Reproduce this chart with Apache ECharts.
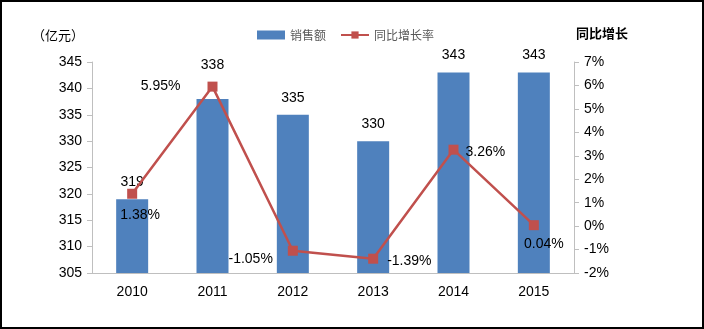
<!DOCTYPE html>
<html><head><meta charset="utf-8">
<script src="https://cdn.jsdelivr.net/npm/echarts@6/dist/echarts.min.js"></script>
<style>
html,body{margin:0;padding:0;background:#fff;}
#c{width:704px;height:329px;box-sizing:border-box;border:2px solid #000;}
</style></head>
<body><div id="c"></div>
<script>
const categories = ['2010','2011','2012','2013','2014','2015'];
const sales = [319, 338, 335, 330, 343, 343];
const growth = [1.38, 5.95, -1.05, -1.39, 3.26, 0.04];
const growthLabelPos = ['bottom','left','left','right','right','bottom'];
const growthLabelOffset = [[8,4],[-22,0],[-10,8],[4,2],[2,2],[10,2]];
const salesLabelOffset = [[0,0],[0,-17],[0,0],[0,0],[0,0],[0,0]];

const chart = echarts.init(document.getElementById('c'), null, {renderer:'canvas'});
const font = '"Liberation Sans", Arial, sans-serif';
const cjk = '"Noto Sans CJK SC", sans-serif';
chart.setOption({
  animation:false,
  textStyle:{fontFamily:font},
  legend:{
    top:22, left:250, itemGap:14, itemWidth:28, itemHeight:9,
    textStyle:{fontFamily:cjk, fontSize:12, color:'#595959'},
    data:[{name:'销售额', icon:'rect'}, {name:'同比增长率'}]
  },
  grid:{left:90, right:128, top:60, bottom:54},
  xAxis:{
    type:'category', data:categories,
    axisLine:{onZero:false, lineStyle:{color:'#bfbfbf'}},
    axisTick:{lineStyle:{color:'#bfbfbf'}, length:5},
    axisLabel:{color:'#000', fontSize:14, margin:12, fontFamily:font}
  },
  yAxis:[{
    type:'value', min:305, max:345, interval:5,
    name:'（亿元）', nameLocation:'end', nameGap:20,
    nameTextStyle:{fontFamily:cjk, fontSize:13, color:'#000', align:'right', padding:[0,8,0,0]},
    axisLine:{show:true, lineStyle:{color:'#bfbfbf'}},
    axisTick:{show:true, lineStyle:{color:'#bfbfbf'}, length:5},
    splitLine:{show:false},
    axisLabel:{color:'#000', fontSize:14, margin:10, fontFamily:font}
  },{
    type:'value', min:-2, max:7, interval:1,
    name:'同比增长', nameLocation:'end', nameGap:22,
    nameTextStyle:{fontFamily:cjk, fontSize:13, fontWeight:'bold', color:'#000', align:'left', padding:[0,0,0,2]},
    axisLine:{show:true, lineStyle:{color:'#bfbfbf'}},
    axisTick:{show:true, lineStyle:{color:'#bfbfbf'}, length:5},
    splitLine:{show:false},
    axisLabel:{color:'#000', fontSize:14, margin:10, fontFamily:font, formatter:v=>v+'%'}
  }],
  series:[{
    name:'销售额', type:'bar', yAxisIndex:0, barWidth:32,
    itemStyle:{color:'#4F81BD'},
    label:{show:true, position:'top', distance:10, color:'#000', fontSize:14, fontFamily:font},
    data:sales.map((v,i)=>({value:v, label:{offset:salesLabelOffset[i]}}))
  },{
    name:'同比增长率', type:'line', yAxisIndex:1,
    symbol:'rect', symbolSize:10,
    lineStyle:{color:'#C0504D', width:2.5},
    itemStyle:{color:'#C0504D'},
    label:{show:true, color:'#000', fontSize:14, fontFamily:font, formatter:p=>p.value.toFixed(2)+'%'},
    data:growth.map((v,i)=>({value:v, label:{position:growthLabelPos[i], offset:growthLabelOffset[i]}}))
  }]
});
</script></body></html>
